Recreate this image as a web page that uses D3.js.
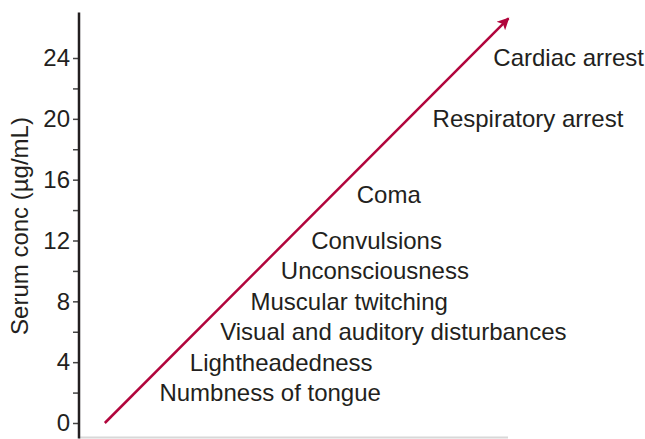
<!DOCTYPE html>
<html>
<head>
<meta charset="utf-8">
<script src="https://cdn.jsdelivr.net/npm/d3@7"></script>
<style>
  body { margin: 0; background: #fff; }
  text { font-family: "Liberation Sans", Arial, sans-serif; fill: #231f20; }
</style>
</head>
<body>
<svg id="svg1" width="645" height="439"></svg>
<script>
// symptoms and the serum concentration (µg/mL) they appear at
var symptoms = ['Numbness of tongue', 'Lightheadedness', 'Visual and auditory disturbances',
    'Muscular twitching', 'Unconsciousness', 'Convulsions', 'Coma',
    'Respiratory arrest', 'Cardiac arrest'];
var concValues = [2, 4, 6, 8, 10, 12, 15, 20, 24];
var tickValues = [0, 2, 4, 6, 8, 10, 12, 14, 16, 18, 20, 22, 24];
var labelledTicks = [0, 4, 8, 12, 16, 20, 24];
var arrowStart = 0, arrowEnd = 26.6;

var svg = d3.select('#svg1');

var red = '#b1053c';
var fontSize = '24px';

// both axes run at the same px per unit, so the arrow is at 45 degrees
var scaleY = d3.scaleLinear().domain([0, 24]).range([423, 58]);
var scaleX = d3.scaleLinear().domain([-1.7, 26.7]).range([79, 510]);

var axisX = scaleX(-1.7);

// bottom line (light grey)
svg.append('line')
    .attr('x1', axisX).attr('x2', 508)
    .attr('y1', scaleY(-0.95)).attr('y2', scaleY(-0.95))
    .attr('stroke', '#d8d8d8')
    .attr('stroke-width', 2);

// y axis ticks and labels
var yAxis = svg.append('g')
    .attr('transform', 'translate(' + axisX + ',0)')
    .call(d3.axisLeft(scaleY)
        .tickValues(tickValues)
        .tickSize(6)
        .tickPadding(3)
        .tickFormat(function(d){ return labelledTicks.indexOf(d) >= 0 ? d : ''; }));

yAxis.select('.domain').remove();
yAxis.selectAll('.tick line').attr('stroke', '#444').attr('stroke-width', 1.5);
yAxis.selectAll('.tick text')
    .style('font-size', fontSize)
    .attr('fill', '#231f20');

// y axis line, runs past the top tick
svg.append('line')
    .attr('x1', axisX).attr('x2', axisX)
    .attr('y1', scaleY(27)).attr('y2', scaleY(-0.95) + 1)
    .attr('stroke', '#231f20')
    .attr('stroke-width', 2.5);

svg.append('text')
    .attr('transform', 'translate(28,' + 226 + ') rotate(-90)')
    .attr('text-anchor', 'middle')
    .style('font-size', fontSize)
    .text('Serum conc (µg/mL)');

// arrow
svg.append('defs').append('marker')
    .attr('id', 'head')
    .attr('viewBox', '0 0 10 10')
    .attr('refX', 9).attr('refY', 5)
    .attr('markerWidth', 16).attr('markerHeight', 12)
    .attr('markerUnits', 'userSpaceOnUse')
    .attr('orient', 'auto')
    .append('path')
    .attr('d', 'M0,0 L10,5 L0,10 L2.5,5 Z')
    .attr('fill', red);

svg.append('line')
    .attr('x1', scaleX(arrowStart)).attr('y1', scaleY(arrowStart))
    .attr('x2', scaleX(arrowEnd)).attr('y2', scaleY(arrowEnd))
    .attr('stroke', red)
    .attr('stroke-width', 2.5)
    .attr('marker-end', 'url(#head)');

// symptom labels, placed just right of the arrow
svg.selectAll('.symptom')
    .data(symptoms)
    .enter()
    .append('text')
    .attr('class', 'symptom')
    .attr('x', function(d, i){ return scaleX(concValues[i] + 1.6); })
    .attr('y', function(d, i){ return scaleY(concValues[i]); })
    .attr('dy', '0.35em')
    .style('font-size', fontSize)
    .text(function(d){ return d; });
</script>
</body>
</html>
